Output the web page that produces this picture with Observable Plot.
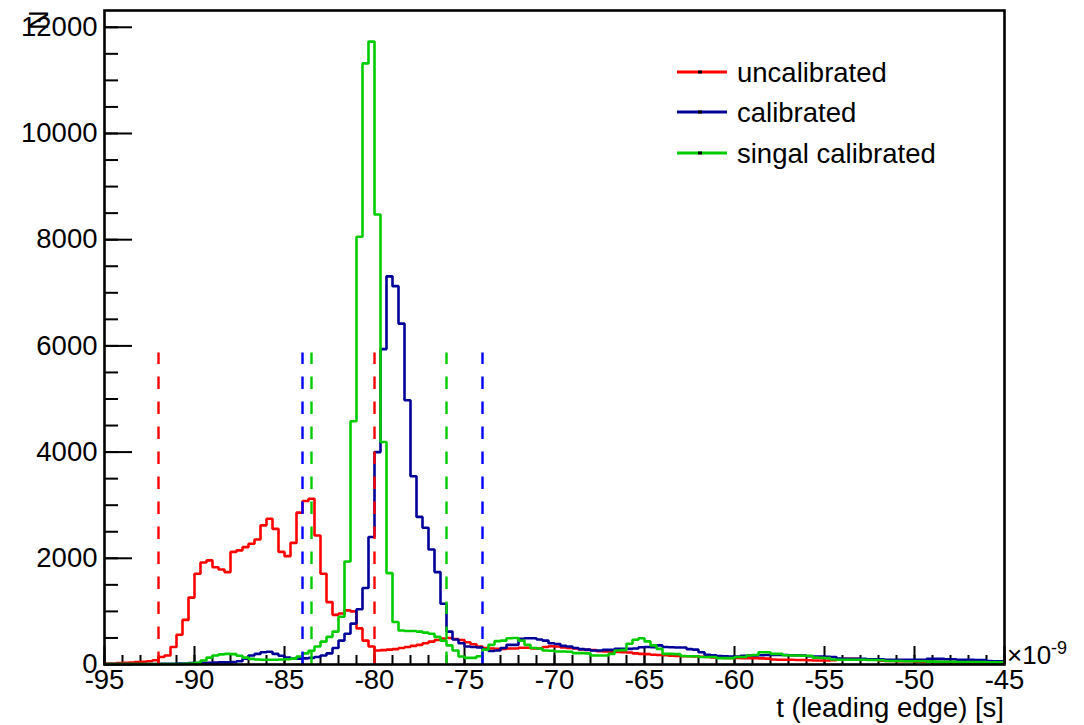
<!DOCTYPE html>
<html>
<head>
<meta charset="utf-8">
<script src="https://cdn.jsdelivr.net/npm/d3@7"></script>
<script src="https://cdn.jsdelivr.net/npm/@observablehq/plot@0.6"></script>
<style>
  html, body { margin: 0; padding: 0; background: #ffffff; }
  #chart { width: 1084px; height: 725px; }
</style>
</head>
<body>
<div id="chart"></div>
<script>
// ---- data (150 bins of 1/3 ns from -95 to -45, in units of 1e-9 s) ----
const binStart = -95;
const binWidth = 1 / 3;

const uncalibrated = [
  20,20,25,30,35,45,50,60,80,140,
  170,330,560,840,1260,1710,1920,1960,1830,1790,
  1740,2120,2150,2210,2275,2355,2620,2745,2555,2120,
  2040,2290,2860,3080,3120,2430,1710,1175,935,960,
  1020,1000,680,450,340,265,270,280,290,310,
  330,350,370,400,430,460,490,500,480,460,
  420,380,340,310,300,295,295,300,300,315,
  315,300,300,330,345,340,320,310,300,285,
  275,270,250,245,240,235,230,225,210,200,
  195,185,180,175,165,160,155,155,150,145,
  140,135,130,125,125,125,120,120,120,115,
  110,95,90,90,90,85,85,80,75,75,
  75,80,100,105,105,105,100,100,95,70,
  65,65,60,60,60,55,50,50,45,45,
  45,45,40,40,40,40,35,30,30,30
];

const calibrated = [
  10,10,10,10,10,10,10,10,10,15,
  15,15,20,20,25,25,30,30,35,40,
  40,45,60,110,170,200,230,240,200,165,
  130,110,110,115,125,140,170,210,310,450,
  580,770,1040,1440,2400,4000,5940,7310,7125,6420,
  4975,3545,2780,2575,2165,1740,1145,620,470,400,
  340,330,320,280,255,265,310,370,370,485,
  495,495,470,450,400,385,350,340,310,290,
  280,265,265,275,275,295,295,295,300,325,
  330,325,360,330,325,320,320,290,280,230,
  185,175,160,155,150,150,165,170,170,175,
  180,180,180,180,175,175,170,155,150,150,
  145,140,110,105,105,105,105,100,100,100,
  90,90,90,90,90,90,90,105,105,105,
  100,100,90,90,90,85,85,65,60,60
];

const singalCalibrated = [
  10,10,10,10,10,10,10,10,10,10,
  10,10,10,15,20,30,75,130,170,190,
  200,195,165,130,105,95,90,90,90,95,
  100,110,150,210,260,340,430,520,620,900,
  1940,4580,8055,11320,11730,8475,4190,1720,800,640,
  630,630,620,600,580,520,450,360,265,150,
  125,125,155,280,370,440,450,495,500,450,
  370,310,300,265,260,245,245,240,215,215,
  210,170,170,170,200,265,270,390,465,495,
  435,360,295,200,200,195,160,155,155,140,
  140,140,120,120,120,140,140,170,180,230,
  230,200,200,175,170,170,165,165,130,125,
  120,95,90,90,90,90,90,85,85,80,
  65,65,65,60,60,60,60,55,55,50,
  50,50,45,45,45,45,45,40,40,40
];

const seriesNames = ["uncalibrated", "calibrated", "singal calibrated"];
const seriesColors = ["#ff0000", "#000099", "#00cc00"];

// dashed cut lines
const cutPositions = [-92, -80, -84, -74, -83.5, -76];
const cutColors = ["#ff0000", "#ff0000", "#0000ff", "#0000ff", "#00cc00", "#00cc00"];
const cutHeight = 5865;

// ticks
const xMajorTicks = [-95, -90, -85, -80, -75, -70, -65, -60, -55, -50, -45];
const xMinorTicks = d3.range(-95, -44, 1);
const yMajorTicks = [0, 2000, 4000, 6000, 8000, 10000, 12000];
const yMinorTicks = d3.range(0, 12001, 500);
const yMax = 12316;

const xTitle = "t (leading edge) [s]";
const yTitle = "N";
const xExponent = "-9";

// ---- build ----
function toSteps(values, name) {
  const pts = values.map((v, i) => ({ x: binStart + i * binWidth, y: v, s: name }));
  pts.push({ x: binStart + values.length * binWidth, y: values[values.length - 1], s: name });
  return pts;
}
const histData = [uncalibrated, calibrated, singalCalibrated].map((arr, k) => toSteps(arr, seriesNames[k]));
const cuts = cutPositions.map((x, i) => ({ x, color: cutColors[i] }));

const W = 1084, H = 725, ML = 104, MR = 80, MT = 10, MB = 61;
const frameW = W - ML - MR, frameH = H - MT - MB;
const font = "'Liberation Sans', Arial, Helvetica, sans-serif";
const FS = 27.5;

const plot = Plot.plot({
  width: W, height: H,
  marginLeft: ML, marginRight: MR, marginTop: MT, marginBottom: MB,
  x: { domain: [-95, -45] },
  y: { domain: [0, yMax] },
  style: { fontFamily: font, fontSize: FS + "px", color: "black", background: "white" },
  marks: [
    Plot.ruleX(xMinorTicks, { stroke: "black", strokeWidth: 2, insetTop: frameH - 9 }),
    Plot.ruleX(xMajorTicks, { stroke: "black", strokeWidth: 2, insetTop: frameH - 18 }),
    Plot.ruleY(yMinorTicks, { stroke: "black", strokeWidth: 2, insetRight: frameW - 14 }),
    Plot.ruleY(yMajorTicks, { stroke: "black", strokeWidth: 2, insetRight: frameW - 28 }),
    Plot.axisX(xMajorTicks, { tickSize: 0, tickPadding: 5, tickFormat: d => String(d), label: null, fontSize: FS }),
    Plot.axisY(yMajorTicks, { tickSize: 0, tickPadding: 7, tickFormat: d => String(d), label: null, fontSize: FS }),
    ...histData.map((d, k) => Plot.line(d, {
      x: "x", y: "y", curve: "step-after",
      stroke: seriesColors[k], strokeWidth: 2.6, strokeLinejoin: "miter"
    })),
    Plot.ruleX(cuts, {
      x: "x", y1: 0, y2: cutHeight, stroke: "color",
      strokeWidth: 2.4, strokeDasharray: "12.5,12.5"
    }),
    Plot.frame({ stroke: "black", strokeWidth: 2.6 })
  ]
});

document.getElementById("chart").appendChild(plot);

// ---- extra texts and legend ----
const svg = d3.select(plot);

svg.append("text")
  .attr("x", W - MR).attr("y", H - 8)
  .attr("text-anchor", "end")
  .attr("font-family", font).attr("font-size", FS).attr("fill", "black")
  .text(xTitle);

svg.append("text")
  .attr("transform", `translate(48,${MT}) rotate(-90)`)
  .attr("text-anchor", "end")
  .attr("font-family", font).attr("font-size", FS).attr("fill", "black")
  .text(yTitle);

const expo = svg.append("text")
  .attr("x", W - MR + 3).attr("y", H - MB)
  .attr("text-anchor", "start")
  .attr("font-family", font).attr("font-size", 26).attr("fill", "black");
expo.append("tspan").text("\u00d710");
expo.append("tspan").attr("font-size", 18).attr("dy", -10).text(xExponent);

const legendY = [72, 112, 153];
const lg = svg.append("g");
seriesNames.forEach((name, k) => {
  const y = legendY[k];
  lg.append("line")
    .attr("x1", 677).attr("x2", 727).attr("y1", y).attr("y2", y)
    .attr("stroke", seriesColors[k]).attr("stroke-width", 3);
  lg.append("rect")
    .attr("x", 698).attr("y", y - 1.5).attr("width", 4).attr("height", 3)
    .attr("fill", "black");
  lg.append("text")
    .attr("x", 737).attr("y", y + 10)
    .attr("text-anchor", "start")
    .attr("font-family", font).attr("font-size", FS).attr("fill", "black")
    .text(name);
});
</script>
</body>
</html>
